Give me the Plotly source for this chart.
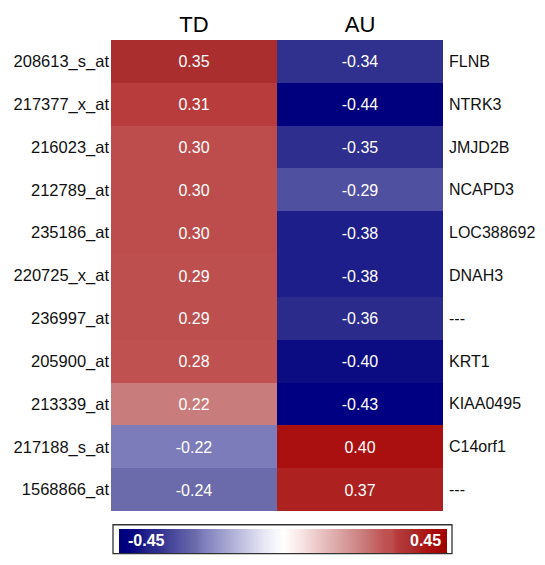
import plotly.graph_objects as go

probes = ["208613_s_at", "217377_x_at", "216023_at", "212789_at", "235186_at",
          "220725_x_at", "236997_at", "205900_at", "213339_at", "217188_s_at", "1568866_at"]
genes = ["FLNB", "NTRK3", "JMJD2B", "NCAPD3", "LOC388692", "DNAH3", "---",
         "KRT1", "KIAA0495", "C14orf1", "---"]
groups = ["TD", "AU"]
td_vals = [0.35, 0.31, 0.30, 0.30, 0.30, 0.29, 0.29, 0.28, 0.22, -0.22, -0.24]
au_vals = [-0.34, -0.44, -0.35, -0.29, -0.38, -0.38, -0.36, -0.40, -0.43, 0.40, 0.37]
zmin, zmax = -0.45, 0.45

z = [[t, a] for t, a in zip(td_vals, au_vals)]
text = [[f"{t:.2f}", f"{a:.2f}"] for t, a in zip(td_vals, au_vals)]

# colour stops (value, colour)
stops = [(-0.45, "#00007a"), (-0.43, "#000082"), (-0.40, "#0c0c82"), (-0.38, "#1e1e8a"),
         (-0.36, "#2b2b8c"), (-0.34, "#30308f"), (-0.29, "#5050a0"), (-0.24, "#6b6bab"),
         (-0.22, "#7c7cbb"), (-0.05, "#e8e8f6"), (0.0, "#ffffff"), (0.05, "#f8e4e4"),
         (0.22, "#c97c7c"), (0.28, "#bf5151"), (0.30, "#bd4d4d"), (0.31, "#b83c3c"),
         (0.35, "#aa2e2e"), (0.37, "#ad2121"), (0.40, "#ab1010"), (0.45, "#a00000")]
colorscale = [[(v - zmin) / (zmax - zmin), c] for v, c in stops]

FONT = "Liberation Sans, Arial, sans-serif"
L, R, T, B = 111, 102, 40, 45
W, H = 545, 565
pw, ph = W - L - R, H - T - B
plot_bottom = H - B


def px_x(x):
    return (x - L) / pw


def px_y(y):
    return (plot_bottom - y) / ph


fig = go.Figure(go.Heatmap(
    z=z, x=groups, y=probes, text=text, texttemplate="%{text}",
    textfont=dict(color="white", size=16, family=FONT),
    colorscale=colorscale, zmin=zmin, zmax=zmax, xgap=0, ygap=0,
    hoverinfo="skip",
    colorbar=dict(orientation="h", lenmode="pixels", len=328, thicknessmode="pixels",
                  thickness=24, x=px_x(282.5), xanchor="center",
                  y=px_y(538), yanchor="top", ypad=0, xpad=0,
                  outlinewidth=0, showticklabels=False, ticks=""),
))

# outer frame of the colour key
fig.add_shape(type="rect", xref="paper", yref="paper",
              x0=px_x(113), x1=px_x(452), y0=px_y(563.5), y1=px_y(534),
              line=dict(color="#333333", width=1.3), fillcolor="rgba(0,0,0,0)")

for g, p in zip(genes, probes):
    fig.add_annotation(x=1, xref="paper", y=p, yref="y", text=g, showarrow=False,
                       xanchor="left", xshift=4,
                       font=dict(size=16, color="#111111", family=FONT))

for val, xpx, anchor in [(zmin, 126, "left"), (zmax, 443, "right")]:
    fig.add_annotation(x=px_x(xpx), xref="paper", y=px_y(550), yref="paper",
                       text=f"<b>{val:.2f}</b>", showarrow=False, xanchor=anchor, yanchor="middle",
                       font=dict(size=16, color="white", family=FONT))

fig.update_layout(
    width=W, height=H, margin=dict(l=L, r=R, t=T, b=B, pad=0),
    paper_bgcolor="white", plot_bgcolor="white",
    font=dict(family=FONT, color="#111111"),
    xaxis=dict(side="top", tickfont=dict(size=22, color="black"), ticks="",
               showgrid=False, zeroline=False, ticklabelstandoff=3),
    yaxis=dict(autorange="reversed", tickfont=dict(size=16.5, color="#111111"), ticks="",
               showgrid=False, zeroline=False, ticklabelstandoff=1),
)

fig.write_html("out.html")
